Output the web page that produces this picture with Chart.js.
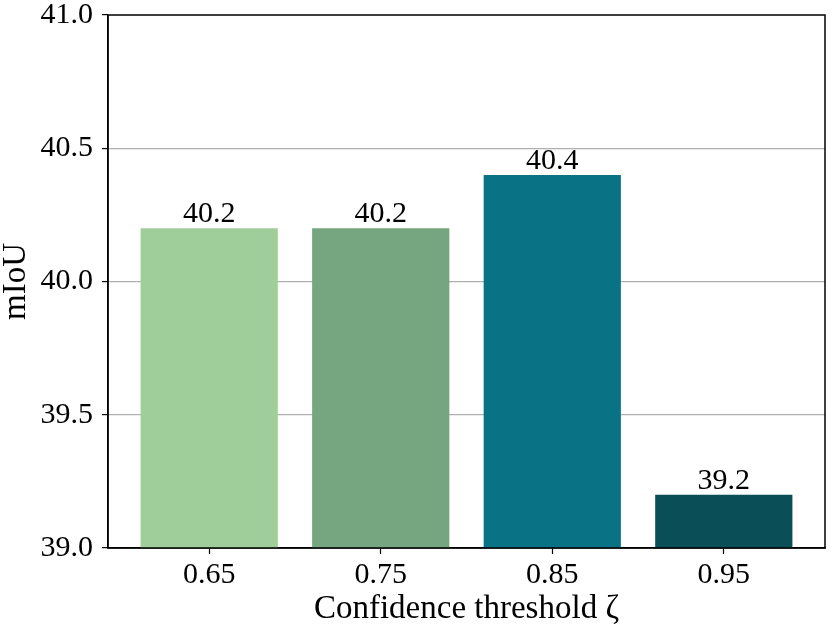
<!doctype html>
<html lang="en">
  <head>
    <meta charset="utf-8">
    <title>mIoU vs confidence threshold</title>
    <style>
      * {
        margin: 0;
        padding: 0;
      }
      body {
        background: white;
      }
      canvas {
        display: block;
      }
    </style>
  </head>
  <body>
    <canvas id="myChart" width="831" height="625"></canvas>
    <script src="https://cdn.jsdelivr.net/npm/chart.js/dist/chart.umd.min.js"></script>
    <script>
    // data
    const thresholds = ['0.65', '0.75', '0.85', '0.95'];
    const miou = [40.2, 40.2, 40.4, 39.2];
    const barColors = ['#9fce9b', '#75a680', '#0a7285', '#0a4f57'];
    const yTicks = [39.0, 39.5, 40.0, 40.5, 41.0];

    const serif = '"Liberation Serif", "DejaVu Serif", serif';
    const fontBig = { family: serif, size: 30, lineHeight: 1.0 };
    const fontTitle = { family: serif, size: 33, lineHeight: 1.0 };

    // bar value labels
    const barLabels = {
      id: 'barLabels',
      afterDatasetsDraw(chart) {
        const ctx = chart.ctx;
        const meta = chart.getDatasetMeta(0);
        ctx.save();
        ctx.font = '30px ' + serif;
        ctx.fillStyle = '#000';
        ctx.textAlign = 'center';
        ctx.textBaseline = 'alphabetic';
        meta.data.forEach((bar, i) => {
          ctx.fillText(miou[i].toFixed(1), bar.x, bar.y - 6);
        });
        ctx.restore();
      }
    };

    // full frame around plot area
    const frame = {
      id: 'frame',
      afterDraw(chart) {
        const { ctx, chartArea: a } = chart;
        ctx.save();
        ctx.strokeStyle = '#000';
        ctx.lineWidth = 1.5;
        ctx.strokeRect(a.left, a.top, a.right - a.left, a.bottom - a.top);
        ctx.restore();
      }
    };

    const data = {
      datasets: [{
        data: miou.map((v, i) => ({ x: i, y: v })),
        backgroundColor: barColors,
        borderWidth: 0,
        barPercentage: 0.8,
        categoryPercentage: 1.0
      }]
    };

    const config = {
      type: 'bar',
      data,
      plugins: [barLabels, frame],
      options: {
        responsive: false,
        animation: false,
        devicePixelRatio: 1,
        layout: { padding: { top: 15, right: 6, left: 0, bottom: 0 } },
        plugins: {
          legend: { display: false },
          tooltip: { enabled: false }
        },
        scales: {
          x: {
            type: 'linear',
            min: -0.59,
            max: 3.59,
            offset: false,
            afterBuildTicks(scale) {
              scale.ticks = thresholds.map((t, i) => ({ value: i }));
            },
            afterFit(scale) {
              scale.height = 77;
              scale.paddingLeft = 0;
              scale.paddingRight = 0;
            },
            ticks: {
              callback: (v) => thresholds[v],
              font: fontBig,
              color: '#000',
              padding: 6,
              maxRotation: 0,
              autoSkip: false
            },
            grid: {
              offset: false,
              drawOnChartArea: false,
              tickLength: 6,
              tickColor: '#000',
              tickWidth: 1.2
            },
            border: { color: '#000', width: 1.5 },
            title: {
              display: true,
              text: 'Confidence threshold ζ',
              font: fontTitle,
              color: '#000',
              padding: { top: 0, bottom: -1 }
            }
          },
          y: {
            min: 39.0,
            max: 41.0,
            afterBuildTicks(scale) {
              scale.ticks = yTicks.map(v => ({ value: v }));
            },
            afterFit(scale) {
              scale.width = 108;
              scale.paddingTop = 0;
              scale.paddingBottom = 0;
            },
            ticks: {
              callback: (v) => v.toFixed(1),
              font: fontBig,
              color: '#000',
              padding: 9
            },
            grid: {
              color: (c) => (c.tick && (c.tick.value === 39 || c.tick.value === 41)) ? 'rgba(0,0,0,0)' : '#b0b0b0',
              lineWidth: 1.2,
              tickLength: 6,
              tickColor: '#000',
              tickWidth: 1.2
            },
            border: { color: '#000', width: 1.5 },
            title: {
              display: true,
              text: 'mIoU',
              font: fontTitle,
              color: '#000',
              padding: { top: 0, bottom: 0 }
            }
          }
        }
      }
    };

    const myChart = new Chart(
      document.getElementById('myChart'),
      config
    );
    </script>
  </body>
</html>
